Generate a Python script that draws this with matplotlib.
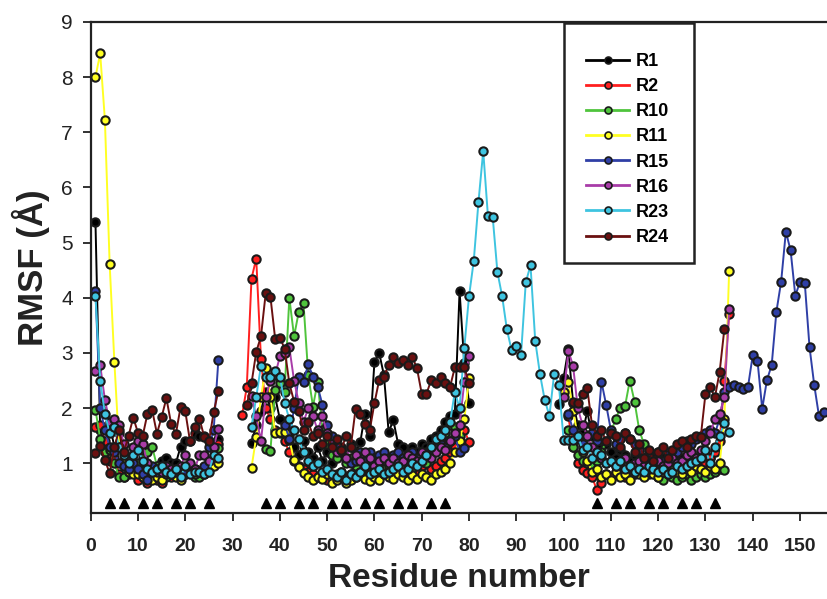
import numpy as np
import matplotlib
matplotlib.use("Agg")
import matplotlib.pyplot as plt
from matplotlib.lines import Line2D
from matplotlib.patches import Rectangle

# residue numbers 1..155, each series given as (first residue, values) pieces
res = np.arange(1, 156)

r1_a = [5.38, 1.6, 1.35, 1.7, 1.3, 1.55, 1.05, 0.95, 0.85, 0.95, 0.9, 0.85, 0.9, 0.95,
        1.05, 1.1, 1.0, 1.0, 1.3, 1.4, 1.4, 1.55, 1.5, 1.5, 1.4, 1.25, 1.45]
r1_b = [1.36, 1.7, 1.95, 2.3, 2.0, 2.2, 1.8, 1.6, 1.5, 1.3,      # 34-43
        1.15, 1.4, 1.2, 1.1, 1.3, 1.05, 1.2, 1.0, 1.15, 1.3,     # 44-53
        1.1, 1.35, 1.2, 1.38, 1.9, 1.5, 2.84, 3.0, 2.6, 1.57,    # 54-63
        1.78, 1.35, 1.3, 1.15, 1.3, 1.2, 1.35, 1.3, 1.45, 1.5,   # 64-73
        1.6, 1.75, 1.85, 1.9, 4.12, 2.81, 2.1]                   # 74-80
r1_c = [2.07, 2.55, 3.07, 2.1, 1.7, 1.55, 1.94, 1.5, 1.3, 1.2,   # 99-108
        1.35, 1.2, 1.1, 1.25, 1.15, 1.05, 1.15, 1.0, 1.1, 1.0,   # 109-118
        1.1, 1.2, 1.1, 1.0, 1.05, 1.15, 1.1, 1.05, 1.15, 1.1,    # 119-128
        1.2, 1.15, 1.1, 1.25]                                    # 129-132

r2_a = [1.65, 1.7, 1.4, 1.05, 1.1, 0.8, 0.75, 0.8, 0.85, 0.7, 0.75, 0.65, 0.75, 0.7,
        0.65, 0.8, 0.75, 0.8, 0.75, 0.8, 0.85, 0.9, 0.8, 0.85, 0.9, 1.1, 1.35]
r2_b = [1.87, 2.38, 4.35, 4.71, 2.9, 2.0, 1.8, 1.6, 1.55, 1.4,   # 32-41
        1.2, 1.05, 0.95, 0.9, 0.85, 0.8, 0.75, 0.8, 0.7, 0.75,   # 42-51
        0.8, 0.85, 0.75, 0.8, 0.9, 0.85, 0.75, 0.7, 0.8, 0.75,   # 52-61
        0.9, 0.8, 0.75, 0.8, 0.85, 0.8, 0.9, 0.85, 0.95, 1.0,    # 62-71
        0.9, 0.95, 1.05, 1.1, 1.2, 1.3, 1.4, 1.6, 1.39]          # 72-80
r2_c = [1.85, 1.3, 1.0, 0.88, 0.82, 0.76, 0.52, 0.65, 0.8, 0.75, # 101-110
        0.85, 0.8, 0.75, 0.85, 0.8, 0.9, 0.85, 0.8, 0.9, 0.85,   # 111-120
        0.95, 0.9, 0.85, 0.95, 0.9, 0.95, 1.0, 0.95, 1.05, 1.0,  # 121-130
        1.1, 1.2, 1.4, 2.5, 3.7]                                 # 131-135

r10_a = [1.97, 1.45, 1.2, 1.25, 1.0, 0.75, 0.75, 0.85, 0.95, 1.0, 1.1, 1.2, 1.3, 0.95,
         0.8, 0.75, 0.8, 0.85, 0.75, 0.8, 0.95, 0.75, 0.75, 0.85, 0.9, 1.05, 1.28]
r10_b = [1.26, 1.23, 2.33, 2.45, 2.3, 4.0, 3.3, 3.75, 3.9, 2.6,  # 37-46
         2.03, 2.48, 1.6, 1.35, 1.15, 1.1, 1.25, 1.0, 1.1, 0.95, # 47-56
         0.85, 1.0, 0.9, 0.95, 1.05, 0.9, 0.95, 1.0, 0.85, 0.95, # 57-66
         1.0, 0.9, 1.05, 1.1, 1.0, 1.15, 1.25, 1.4, 1.55, 1.7,   # 67-76
         1.65, 1.5]                                              # 77-78
r10_c = [1.6, 1.3, 1.15, 1.05, 1.0, 0.95, 1.05, 1.2, 1.4, 1.55,  # 101-110
         1.81, 2.0, 2.04, 2.5, 2.12, 1.6, 1.35, 1.1, 0.85, 0.75, # 111-120
         0.7, 0.8, 0.75, 0.7, 0.75, 0.8, 0.7, 0.75, 0.8, 0.75,   # 121-130
         0.8, 0.85, 0.9, 0.88]                                   # 131-134

r11_a = [8.0, 8.43, 7.22, 4.62, 2.84, 1.3, 1.0, 0.85, 0.8, 0.8, 0.75, 0.8, 0.7, 0.75,
         0.7, 0.8, 0.8, 0.75, 0.7, 0.8, 0.85, 0.8, 0.85, 0.8, 0.9, 0.95, 1.0]
r11_b = [0.92, 1.48, 2.2, 2.73, 2.21, 1.55, 1.56, 1.56, 1.43, 1.06,  # 34-43
         0.94, 0.82, 0.75, 0.7, 0.75, 0.72, 0.8, 0.65, 0.7, 0.75,    # 44-53
         0.65, 0.7, 0.75, 0.8, 0.72, 0.68, 0.75, 0.7, 0.8, 0.75,     # 54-63
         0.72, 0.8, 0.75, 0.7, 0.78, 0.72, 0.8, 0.75, 0.7, 0.8,      # 64-73
         0.85, 0.9, 1.0, 1.2, 1.4, 1.8, 2.54]                        # 74-80
r11_c = [2.3, 2.48, 1.95, 1.5, 1.2, 1.05, 0.85, 0.9, 0.75, 0.8,  # 100-109
         0.7, 0.85, 0.75, 0.8, 0.7, 0.85, 0.8, 0.75, 0.85, 0.8,  # 110-119
         0.75, 0.85, 0.8, 0.9, 0.85, 0.8, 0.9, 0.85, 0.95, 0.9,  # 120-129
         0.85, 0.95, 0.9, 1.0, 1.8, 4.48]                        # 130-135

r15_a = [4.12, 2.0, 1.6, 1.3, 1.2, 1.0, 0.95, 0.9, 1.0, 0.9, 0.8, 0.7, 0.95, 0.85,
         0.9, 0.85, 0.9, 0.85, 0.9, 0.85, 0.95, 0.9, 0.85, 0.95, 1.3, 1.6, 2.88]
r15_b = [1.7, 1.45, 2.0, 2.57, 2.48, 2.8, 2.57, 2.39, 2.06, 1.7, # 41-50
         1.5, 1.3, 1.2, 1.1, 1.0, 1.05, 1.2, 1.05, 1.2, 1.1,     # 51-60
         1.15, 1.2, 1.05, 1.15, 1.2, 1.1, 1.15, 1.2, 1.1, 1.15,  # 61-70
         1.2, 1.25, 1.3, 1.35, 1.3, 1.4, 1.5, 1.2, 1.27]         # 71-79
r15_c = [1.9, 1.6, 1.45, 1.35, 1.5, 1.55, 1.4, 2.48, 2.06, 1.6,   # 101-110
         1.35, 1.45, 1.55, 1.45, 1.35, 1.25, 1.1, 1.2, 1.0, 1.1,  # 111-120
         1.05, 1.15, 1.05, 1.2, 1.3, 1.4, 1.35, 1.45, 1.5, 1.55,  # 121-130
         1.6, 1.55, 1.8, 2.3, 2.39, 2.42, 2.38, 2.34, 2.39, 2.96, # 131-140
         2.86, 1.99, 2.51, 2.78, 3.75, 4.29, 5.2, 4.86, 4.04, 4.29, # 141-150
         4.27, 3.11, 2.42, 1.86, 1.93]                            # 151-155

r16_a = [2.67, 2.78, 2.15, 1.75, 1.8, 1.7, 1.35, 1.1, 1.3, 1.4, 1.35, 1.0, 0.85, 0.9,
         0.85, 0.95, 0.9, 0.9, 0.95, 1.15, 1.0, 0.9, 1.15, 1.15, 1.05, 1.3, 1.62]
r16_b = [2.22, 1.85, 1.4, 2.2, 2.5, 2.6, 2.94, 3.0, 3.1, 2.5,    # 34-43
         2.1, 1.75, 2.0, 1.85, 1.6, 1.85, 1.55, 1.35, 1.2, 1.25, # 44-53
         1.1, 1.3, 1.15, 1.05, 1.2, 1.1, 0.95, 1.05, 1.1, 1.0,   # 54-63
         1.1, 1.0, 1.05, 1.15, 1.1, 1.05, 1.2, 1.15, 1.1, 1.2,   # 64-73
         1.3, 1.25, 1.4, 1.55, 1.7, 2.47, 2.94]                  # 74-80
r16_c = [2.2, 3.04, 2.77, 2.0, 1.7, 1.5, 1.3, 1.2, 1.1, 1.0,     # 100-109
         1.05, 0.95, 1.0, 1.1, 0.95, 1.0, 1.05, 0.95, 0.9, 1.0,  # 110-119
         1.05, 0.95, 1.0, 1.1, 1.0, 1.05, 1.15, 1.2, 1.1, 1.25,  # 120-129
         1.4, 1.55, 1.8, 1.9, 2.2, 3.8]                          # 130-135

r23_a = [4.03, 2.5, 1.9, 1.55, 1.65, 1.3, 1.15, 1.0, 1.15, 1.25, 1.05, 0.9, 0.85, 0.9,
         0.95, 0.85, 0.8, 0.9, 0.75, 0.95, 0.8, 0.85, 0.85, 0.8, 0.85, 1.15, 1.1]
r23_b = [1.66, 2.2, 2.77, 2.57, 2.57, 2.68, 2.57, 2.1, 1.8, 1.6, # 34-43
         1.45, 1.2, 1.05, 0.95, 1.0, 0.85, 0.9, 0.8, 0.75, 0.85, # 44-53
         0.7, 0.8, 0.75, 0.85, 0.95, 0.8, 0.85, 0.9, 0.8, 0.85,  # 54-63
         0.9, 0.95, 0.85, 0.9, 1.0, 0.95, 1.05, 1.15, 1.3, 1.45, # 64-73
         1.5, 1.6, 1.75, 2.3, 2.0, 3.09, 4.03, 4.67, 5.74, 6.66, # 74-83
         5.48, 5.47, 4.47, 4.03, 3.43, 3.05, 3.13, 2.97, 4.28, 4.59, # 84-93
         3.22, 2.62, 2.15, 1.86, 2.62, 2.42, 1.43, 1.43, 1.43, 1.5,  # 94-103
         1.25, 1.3, 1.1, 1.2, 1.15, 1.0, 1.05, 0.95, 1.05, 0.9,  # 104-113
         0.95, 0.85, 0.9, 0.85, 0.95, 0.9, 0.85, 0.9, 0.8, 0.85, # 114-123
         0.95, 0.9, 0.95, 1.0, 1.05, 1.1, 1.25, 1.0, 1.3, 1.5,   # 124-133
         1.74, 1.56]                                             # 134-135

r24_a = [1.18, 1.31, 1.06, 0.82, 1.3, 1.6, 1.2, 1.5, 1.83, 1.55, 1.5, 1.9, 1.96, 1.54,
         1.84, 2.18, 1.72, 1.53, 2.02, 1.94, 1.4, 1.66, 1.81, 1.48, 1.4, 1.93, 2.31]
r24_b = [2.06, 2.45, 3.02, 3.3, 4.08, 4.02, 3.26, 3.28, 3.08, 2.45,  # 33-42
         2.12, 1.95, 1.6, 1.75, 1.5, 1.55, 1.35, 1.5, 1.3, 1.45,     # 43-52
         1.25, 1.5, 1.3, 1.98, 1.9, 1.72, 1.6, 2.09, 2.51, 2.57,     # 53-62
         2.78, 2.93, 2.81, 2.88, 2.78, 2.93, 2.72, 2.26, 2.26, 2.51, # 63-72
         2.46, 2.56, 2.45, 2.39, 2.74, 2.75, 2.74, 2.46]             # 73-80
r24_c = [2.11, 2.1, 2.26, 2.36, 1.7, 1.5, 1.6, 1.4, 1.55, 1.5,   # 102-111
         1.3, 1.55, 1.45, 1.2, 1.35, 1.1, 1.25, 1.05, 1.2, 1.3,  # 112-121
         1.1, 1.25, 1.35, 1.4, 1.3, 1.45, 1.5, 1.48, 2.26, 2.38, # 122-131
         2.2, 2.66, 3.44]                                        # 132-134

# helix marker positions (triangles under the curves)
tri_res = [4, 7, 11, 14, 18, 21, 25,
           37, 40, 44, 47, 51, 54, 58, 61, 65, 68, 72, 75,
           107, 111, 114, 118, 121, 125, 128, 132]

labels = ['R1', 'R2', 'R10', 'R11', 'R15', 'R16', 'R23', 'R24']
colors = ['#000000', '#ff1f1f', '#4fc43c', '#ffff22', '#2f3fa6', '#a83ca8', '#3ec4e0', '#6a1010']


def full(*parts):
    y = np.full(res.size, np.nan)
    for start, vals in parts:
        y[start - 1:start - 1 + len(vals)] = vals
    return y


series = [
    full((1, r1_a), (34, r1_b), (99, r1_c)),
    full((1, r2_a), (32, r2_b), (101, r2_c)),
    full((1, r10_a), (37, r10_b), (101, r10_c)),
    full((1, r11_a), (34, r11_b), (100, r11_c)),
    full((1, r15_a), (41, r15_b), (101, r15_c)),
    full((1, r16_a), (34, r16_b), (100, r16_c)),
    full((1, r23_a), (34, r23_b)),
    full((1, r24_a), (33, r24_b), (102, r24_c)),
]

fig = plt.figure(figsize=(8.27, 5.99), dpi=100)
ax = fig.add_axes([0.1097, 0.1436, 0.8903, 0.8197])

edge = '#1a1a1a'
for y, c in zip(series, colors):
    ax.plot(res, y, '-o', color=c, mfc=c, mec=edge, ms=6, mew=1.5, lw=1.4)

ax.plot(tri_res, [0.28] * len(tri_res), '^', color='black', ms=7, ls='none')

ax.set_xlim(0, 155.7)
ax.set_ylim(0.1, 9)
ax.set_xticks(np.arange(0, 151, 10))
ax.set_yticks(np.arange(1, 10, 1))

for s in ['left', 'bottom', 'top']:
    ax.spines[s].set_linewidth(1.6)
    ax.spines[s].set_color('#222222')
ax.spines['right'].set_visible(False)
ax.tick_params(axis='both', direction='out', length=6, width=1.3, color='#222222')
ax.tick_params(axis='y', pad=7)
ax.tick_params(axis='x', pad=12)

for t in ax.get_yticklabels():
    t.set_family(['Liberation Sans', 'DejaVu Sans'])
    t.set_fontsize(15)
    t.set_color('#222222')
for t in ax.get_xticklabels():
    t.set_family(['Liberation Sans', 'DejaVu Sans'])
    t.set_fontsize(14)
    t.set_fontweight('bold')
    t.set_color('#222222')

ax.set_xlabel('Residue number', fontsize=24, fontweight='bold',
              family=['Liberation Sans', 'DejaVu Sans'], color='#222222', labelpad=6)
ax.set_ylabel('RMSF (Å)', fontsize=25, fontweight='bold',
              family=['Liberation Sans', 'DejaVu Sans'], color='#222222', labelpad=8)

# legend with its own box
handles = [Line2D([0], [0], color=c, lw=2, marker='o', mfc=c, mec=edge, ms=5, mew=1.2)
           for c in colors]
fig.legend(handles, labels, loc='upper left', bbox_to_anchor=(577 / 827, 1 - 44 / 599),
           frameon=False, borderpad=0, handlelength=2.4, handletextpad=0.35,
           labelspacing=0.45, prop={'family': ['Liberation Sans', 'DejaVu Sans'],
                                    'weight': 'bold', 'size': 13})
fig.patches.append(Rectangle((564 / 827, 1 - 263 / 599), 130 / 827, 240 / 599,
                             transform=fig.transFigure, fill=False, lw=1.8,
                             edgecolor='#222222'))

fig.savefig('out.png', dpi=100)
